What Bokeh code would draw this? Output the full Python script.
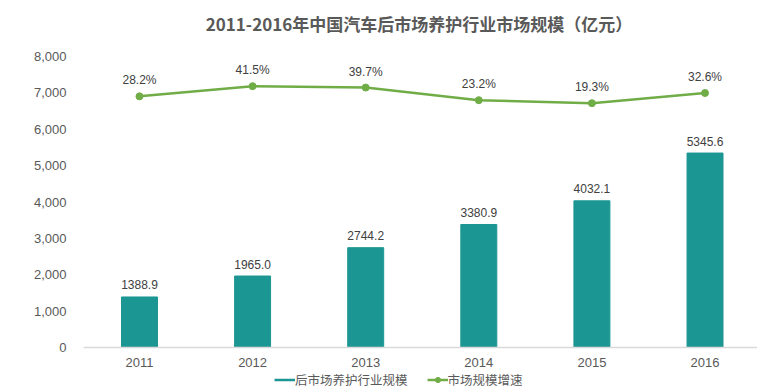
from bokeh.plotting import figure
from bokeh.layouts import column
from bokeh.models import (Range1d, FixedTicker, NumeralTickFormatter,
                          Legend, LegendItem, ColumnDataSource, Label)
from bokeh.core.properties import value
from bokeh.embed import file_html
from bokeh.resources import INLINE

# ---- data ----
years = ["2011", "2012", "2013", "2014", "2015", "2016"]
market_size = [1388.9, 1965.0, 2744.2, 3380.9, 4032.1, 5345.6]
growth_rate = [28.2, 41.5, 39.7, 23.2, 19.3, 32.6]
y_ticks = [0, 1000, 2000, 3000, 4000, 5000, 6000, 7000, 8000]
title_text = "2011-2016年中国汽车后市场养护行业市场规模（亿元）"
bar_name = "后市场养护行业规模"
line_name = "市场规模增速"

BAR_COLOR = "#1c9693"
LINE_COLOR = "#70ad47"
TEXT_COLOR = "#404040"
TICK_COLOR = "#595959"
NUM_FONT = "Liberation Sans"
CJK_FONT = "Noto Sans CJK SC"

idx = list(range(len(years)))
src = ColumnDataSource(dict(
    x=idx,
    size=market_size,
    size_lbl=["%.1f" % v for v in market_size],
    rate=growth_rate,
    rate_lbl=["%.1f%%" % v for v in growth_rate],
))

W = 757
T_H = 40          # title strip
P_H = 333         # main chart
LEG_H = 386 - T_H - P_H


def strip(h, x_range, y_range):
    f = figure(width=W, height=h, output_backend="svg", toolbar_location=None,
               x_axis_location=None, y_axis_location=None,
               x_range=x_range, y_range=y_range, min_border=0)
    f.outline_line_color = None
    f.xgrid.visible = False
    f.ygrid.visible = False
    f.background_fill_color = "white"
    f.border_fill_color = "white"
    return f


# ---- title strip ----
pt = strip(T_H, Range1d(0, 1), Range1d(0, 1))
pt.add_layout(Label(x=335.5, y=T_H - 22.5, x_units="screen", y_units="screen",
                    text=title_text, text_align="center", text_baseline="middle",
                    text_font=CJK_FONT, text_font_size="17px",
                    text_font_style="bold", text_color=TICK_COLOR))

# ---- main chart ----
p = figure(width=W, height=P_H, output_backend="svg", toolbar_location=None,
           x_range=Range1d(-0.495, 5.464), y_range=Range1d(0, 8000),
           min_border_left=83, min_border_right=0, min_border_top=56 - T_H,
           min_border_bottom=T_H + P_H - 347)
p.outline_line_color = None
p.xgrid.visible = False
p.ygrid.visible = False
p.background_fill_color = "white"
p.border_fill_color = "white"

p.extra_y_ranges = {"pct": Range1d(-300.0, 80.3)}

# bars
p.vbar(x="x", top="size", width=0.318, source=src, color=BAR_COLOR)
p.text(x="x", y="size", text="size_lbl", source=src, y_offset=-12,
       text_align="center", text_baseline="middle",
       text_font=value(NUM_FONT), text_font_size="12px", text_color=TEXT_COLOR)

# line
ln = p.line(x="x", y="rate", source=src, y_range_name="pct",
            line_color=LINE_COLOR, line_width=2.5)
sc = p.scatter(x="x", y="rate", source=src, y_range_name="pct", size=7,
               fill_color=LINE_COLOR, line_color=LINE_COLOR)
p.text(x="x", y="rate", text="rate_lbl", source=src, y_range_name="pct",
       y_offset=-16, text_align="center", text_baseline="middle",
       text_font=value(NUM_FONT), text_font_size="12px", text_color=TEXT_COLOR)

# axes
xa = p.xaxis[0]
xa.ticker = FixedTicker(ticks=idx)
xa.major_label_overrides = {i: y for i, y in zip(idx, years)}
xa.axis_line_color = "#d9d9d9"
xa.axis_line_width = 1.5
xa.major_tick_line_color = None
xa.minor_tick_line_color = None
xa.major_tick_in = 0
xa.major_tick_out = 0
xa.major_label_standoff = 10
xa.major_label_text_font = NUM_FONT
xa.major_label_text_font_size = "13px"
xa.major_label_text_color = TICK_COLOR

ya = p.yaxis[0]
ya.ticker = FixedTicker(ticks=y_ticks)
ya.formatter = NumeralTickFormatter(format="0,0")
ya.axis_line_color = None
ya.major_tick_line_color = None
ya.minor_tick_line_color = None
ya.major_tick_in = 0
ya.major_tick_out = 0
ya.major_label_standoff = 17
ya.major_label_text_font = NUM_FONT
ya.major_label_text_font_size = "13px"
ya.major_label_text_color = TICK_COLOR

# ---- legend strip (line swatches, as in the reference) ----
# its renderers use the same data but lie outside this strip's visible range
pl = strip(LEG_H, p.x_range, Range1d(-20000, -19000))
sw_bar = pl.line(x="x", y="size", source=src, line_color=BAR_COLOR, line_width=2.5)
sw_line = pl.line(x="x", y="rate", source=src, line_color=LINE_COLOR, line_width=2.5)
sw_dot = pl.scatter(x="x", y="rate", source=src, size=7,
                    fill_color=LINE_COLOR, line_color=LINE_COLOR)
legend = Legend(items=[LegendItem(label=bar_name, renderers=[sw_bar]),
                       LegendItem(label=line_name, renderers=[sw_line, sw_dot])],
                orientation="horizontal", location=(191, -3),
                glyph_width=21, glyph_height=LEG_H, label_height=LEG_H,
                label_standoff=0, spacing=19, padding=0, margin=0,
                border_line_color=None, background_fill_alpha=0,
                label_text_font=CJK_FONT, label_text_font_size="12.5px",
                label_text_line_height=0.95,
                label_text_color=TICK_COLOR, label_text_baseline="middle")
pl.add_layout(legend, "center")

layout = column(pt, p, pl, spacing=0)
open("out.html", "w").write(file_html(layout, INLINE))
